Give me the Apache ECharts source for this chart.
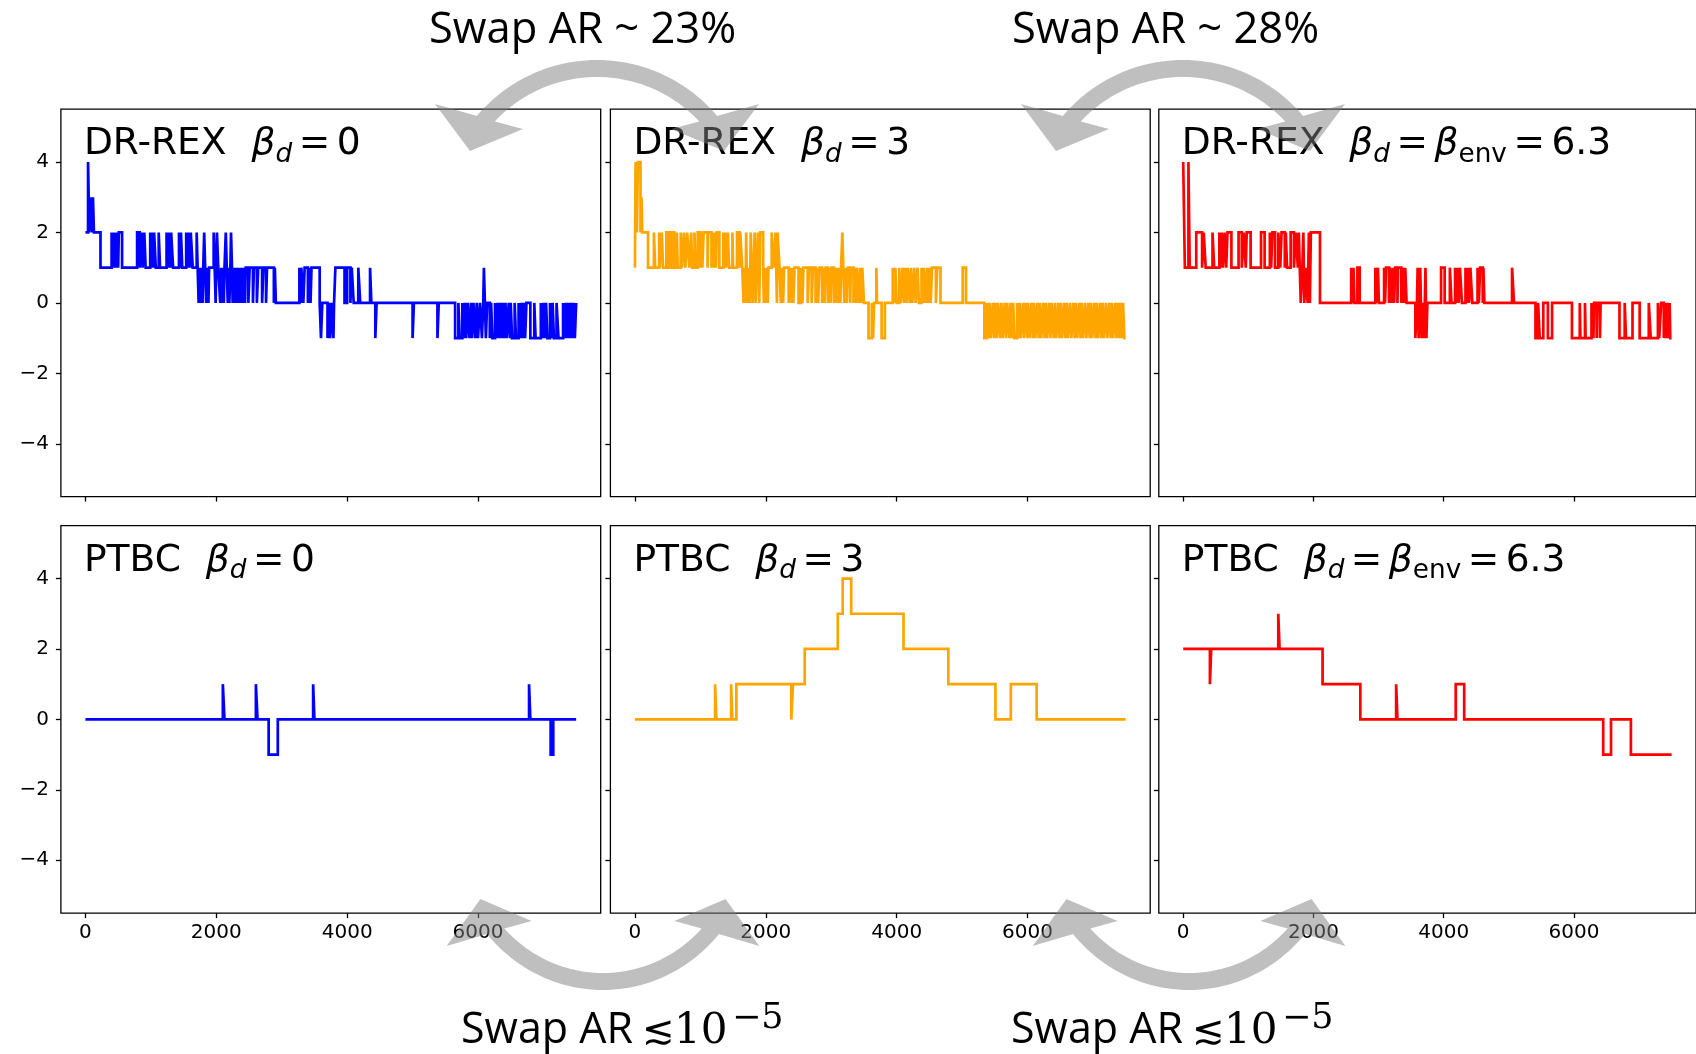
<!DOCTYPE html>
<html>
<head>
<meta charset="utf-8">
<script src="https://cdn.jsdelivr.net/npm/echarts@6/dist/echarts.min.js"></script>
<style>
  html, body { margin: 0; padding: 0; background: #fff; }
  #chart { width: 1696px; height: 1054px; }
</style>
</head>
<body>
<div id="chart"></div>
<script>
// Replica index (integer) versus exchange step. Each entry is [step, value];
// the value holds until the next entry (step-wise trace).
const drRexBeta0 = [[0,2],[40,4],[60,2],[90,3],[105,2],[115,3],[130,2],[230,1],[400,2],[415,1],[430,2],[445,1],[455,2],[470,1],[480,2],[500,1],[510,2],[560,1],
[790,2],[830,1],[860,2],[875,1],[900,2],[920,1],[990,2],[1010,1],[1020,2],[1040,1],[1050,2],[1075,1],[1120,2],[1140,1],[1240,2],[1260,1],[1270,2],[1300,1],[1310,2],[1340,1],[1430,2],[1445,1],[1460,2],[1480,1],[1540,2],[1560,1],[1575,2],[1600,1],[1610,2],[1640,1],[1700,2],[1715,1],
[1730,0],[1745,1],[1760,0],[1775,1],[1790,0],[1800,1],[1815,2],[1830,1],[1845,0],[1855,1],[1880,0],[1890,1],[1960,2],[1975,1],[1990,0],[2000,1],[2010,2],[2030,1],[2060,0],[2075,1],[2090,0],[2100,1],[2115,0],[2125,1],[2145,2],[2160,1],[2175,0],[2185,1],[2200,0],[2215,1],[2225,2],[2240,1],[2250,0],[2265,1],[2280,0],[2290,1],[2310,0],[2325,1],[2340,0],[2350,1],[2370,0],[2385,1],[2405,0],[2420,1],[2440,0],[2450,1],[2490,0],[2510,1],[2560,0],[2575,1],[2620,0],[2640,1],[2700,0],[2720,1],[2760,0],[2775,1],[2880,0],[2895,1],[2910,0],
[3270,1],[3290,0],[3300,1],[3330,0],[3350,1],[3400,0],[3420,1],[3440,0],[3455,1],[3580,0],[3600,-1],[3620,0],[3700,-1],[3720,0],[3740,-1],[3760,0],[3790,-1],[3800,0],[3820,1],[3960,0],[4000,1],[4050,0],[4070,1],[4100,0],[4170,1],[4200,0],[4350,1],[4370,0],[4430,-1],[4450,0],
[5000,-1],[5020,0],[5380,-1],[5400,0],[5650,-1],[5700,0],[5720,-1],[5760,0],[5780,-1],[5800,0],[5820,-1],[5840,0],[5870,-1],[5890,0],[5910,-1],[5930,0],[5960,-1],[5980,0],[6000,-1],[6030,0],[6060,-1],[6080,0],[6090,1],[6105,0],[6120,-1],[6140,0],[6180,-1],[6200,0],[6220,-1],[6260,0],[6280,-1],[6300,0],[6320,-1],[6340,0],[6360,-1],[6380,0],[6400,-1],[6420,0],[6440,-1],[6470,0],[6490,-1],[6500,0],[6520,-1],[6560,0],[6580,-1],[6620,0],[6640,-1],[6660,0],[6680,-1],[6700,0],[6720,-1],[6740,0],[6800,-1],[6860,0],[6880,-1],[6960,0],[6980,-1],[7000,0],[7020,-1],[7040,0],[7060,-1],[7100,0],[7120,-1],[7140,0],[7160,-1],[7200,0],[7230,-1],[7300,0],[7320,-1],[7340,0],[7360,-1],[7380,0],[7400,-1],[7420,0],[7440,-1],[7460,0],[7480,-1],[7500,0]];

const drRexBeta3 = [[0,1],[10,4],[30,2],[45,4],[85,2],[100,3],[112,2],[200,1],
[290,2],[310,1],[370,2],[380,1],[410,2],[430,1],[480,2],[520,1],[560,2],[600,1],[640,2],[655,1],[700,2],[720,1],[750,2],[770,1],[800,2],[830,1],[860,2],[875,1],[910,2],[925,1],[960,2],[1000,1],[1010,2],[1030,1],[1050,2],[1110,1],[1120,2],[1170,1],[1180,2],[1200,1],[1210,2],[1240,1],[1250,2],[1290,1],[1350,2],[1360,1],[1380,2],[1395,1],[1420,2],[1440,1],[1490,2],[1500,1],[1560,2],[1600,1],[1610,2],[1640,1],
[1660,0],[1675,1],[1690,0],[1700,2],[1715,0],[1740,1],[1755,0],[1770,2],[1785,1],[1800,0],[1815,1],[1830,2],[1845,0],[1860,1],[1880,2],[1900,0],[1915,2],[1960,1],[1970,0],[1990,1],[2000,0],[2010,1],[2030,0],[2040,1],[2090,2],[2120,1],[2150,2],[2170,0],[2180,2],[2210,1],
[2230,0],[2250,1],[2265,0],[2280,1],[2350,0],[2380,1],[2395,0],[2405,1],[2420,0],[2440,1],[2500,0],[2540,1],[2560,0],[2575,1],[2640,0],[2660,1],[2700,0],[2720,1],[2760,0],[2775,1],[2800,0],[2820,1],[2860,0],[2880,1],[2900,0],[2915,1],[2950,0],[2965,1],[2990,0],[3005,1],[3040,0],[3055,1],[3080,0],[3095,1],[3110,0],[3125,1],[3140,0],[3150,1],[3170,2],[3185,1],[3200,0],[3215,1],[3240,0],[3255,1],[3290,0],[3300,1],[3340,0],[3355,1],[3380,0],[3390,1],[3420,0],[3440,1],[3460,0],[3475,1],[3500,0],
[3570,-1],[3620,0],[3640,-1],[3655,0],[3690,1],[3700,0],[3770,-1],[3820,0],
[3940,1],[3960,0],[3980,1],[4000,0],[4040,1],[4060,0],[4090,1],[4110,0],[4130,1],[4150,0],[4170,1],[4200,0],[4220,1],[4240,0],[4270,1],[4290,0],[4320,1],[4340,0],[4380,1],[4400,0],[4420,1],[4440,0],[4470,1],[4480,0],[4500,1],[4520,0],[4540,1],[4600,0],[4620,1],[4670,0],
[5010,1],[5060,0],
[5340,-1],[5380,0],[5400,-1],[5420,0],[5440,-1],[5470,0],[5490,-1],[5510,0],[5530,-1],[5550,0],[5580,-1],[5600,0],[5620,-1],[5650,0],[5670,-1],[5690,0],[5720,-1],[5740,0],[5760,-1],[5780,0],[5800,-1],[5840,0],[5860,-1],[5880,0],[5900,-1],[5930,0],[5950,-1],[5970,0],[6000,-1],[6010,0],[6030,-1],[6060,0],[6080,-1],[6100,0],[6120,-1],[6150,0],[6170,-1],[6190,0],[6210,-1],[6240,0],[6260,-1],[6280,0],[6300,-1],[6330,0],[6350,-1],[6370,0],[6400,-1],[6420,0],[6440,-1],[6470,0],[6490,-1],[6510,0],[6530,-1],[6560,0],[6580,-1],[6600,0],[6620,-1],[6650,0],[6670,-1],[6700,0],[6720,-1],[6740,0],[6760,-1],[6790,0],[6810,-1],[6830,0],[6850,-1],[6880,0],[6900,-1],[6930,0],[6950,-1],[6970,0],[6990,-1],[7020,0],[7040,-1],[7060,0],[7080,-1],[7110,0],[7130,-1],[7150,0],[7170,-1],[7200,0],[7220,-1],[7250,0],[7270,-1],[7290,0],[7310,-1],[7340,0],[7360,-1],[7380,0],[7400,-1],[7420,0],[7440,-1],[7460,0],[7480,-1],[7500,-1]];

const drRexBetaEnv = [[0,4],[25,1],[80,4],[100,1],[200,2],[290,1],[315,2],[345,1],[450,2],[475,1],[555,2],[580,1],[590,2],[610,1],[635,2],[660,1],[680,2],[740,1],[850,2],[900,1],[930,2],[960,1],[975,2],[1035,1],[1195,2],[1250,1],[1330,2],[1350,1],[1370,2],[1410,1],[1460,2],[1490,1],[1510,2],[1560,1],[1575,2],[1595,1],[1650,2],[1700,1],[1730,2],[1760,1],[1775,2],[1805,0],[1830,1],[1845,2],[1860,0],[1880,1],[1910,0],[1930,2],[1945,0],[1960,2],[2100,0],
[2580,1],[2600,0],[2615,1],[2630,0],[2675,1],[2710,0],[2950,1],[2965,0],[2990,1],[3005,0],[3085,1],[3100,0],[3115,1],[3160,0],[3170,1],[3200,0],[3215,1],[3240,0],[3255,1],[3290,0],[3300,1],[3350,0],[3375,1],[3390,0],[3410,1],[3430,0],[3565,-1],[3590,0],[3600,1],[3615,-1],[3640,1],[3660,-1],[3680,0],[3700,-1],[3720,1],[3735,-1],[3750,0],[3960,1],[4015,0],[4095,1],[4120,0],[4175,1],[4195,0],[4210,1],[4230,0],[4250,1],[4280,0],[4335,1],[4350,0],[4370,1],[4390,0],[4410,1],[4440,0],[4520,1],[4540,0],[4560,1],[4600,0],[4610,1],[4625,0],[5050,1],[5080,0],
[5410,-1],[5450,0],[5475,-1],[5530,0],[5600,-1],[5665,0],[5970,-1],[6090,0],[6100,-1],[6170,0],[6180,-1],[6270,0],[6300,-1],[6310,0],[6350,-1],[6360,0],[6400,-1],[6410,0],[6700,-1],[6780,0],[6800,-1],[6900,0],[7010,-1],[7150,0],[7180,-1],[7290,0],[7310,-1],[7340,0],[7380,-1],[7400,0],[7420,-1],[7440,0],[7455,-1],[7470,0],[7480,-1],[7500,-1]];

const ptbcBeta0 = [[0,0],[2100,1],[2125,0],[2605,1],[2630,0],[2800,-1],[2940,0],[3480,1],[3500,0],[6780,1],[6800,0],[7110,-1],[7150,0],[7500,0]];
const ptbcBeta3 = [[0,0],[1225,1],[1245,0],[1470,1],[1490,0],[1550,1],[2390,0],[2415,1],[2595,2],[3100,3],[3175,4],[3305,3],[4105,2],[4790,1],[5510,0],[5745,1],[6140,0],[7500,0]];
const ptbcBetaEnv = [[0,2],[410,1],[430,2],[1460,3],[1480,2],[2140,1],[2720,0],[3270,1],[3290,0],[4185,1],[4315,0],[6450,-1],[6570,0],[6875,-1],[7500,-1]];

const xTicks = [0, 2000, 4000, 6000];
const yTicks = [-4, -2, 0, 2, 4];
const methods = ['DR-REX', 'PTBC'];
const betaLabels = ['0', '3', '6.3'];
const lineColors = ['#0000ff', '#ffa500', '#ff0000'];
const panelData = [drRexBeta0, drRexBeta3, drRexBetaEnv, ptbcBeta0, ptbcBeta3, ptbcBetaEnv];
const topNotes = ['Swap AR ~ 23%', 'Swap AR ~ 28%'];
const bottomNote = { base: 'Swap AR', rel: '\u2272', mant: '10', exp: '\u22125' };

// ---- layout ----
const colLeft = [60.9, 610.4, 1158.8];
const rowTop = [109.2, 525.7];
const PW = 539.8, PH = 387.4;
const DJ = "'DejaVu Sans'";
const OS = "'Open Sans', 'DejaVu Sans'";
const SERIF = "'DejaVu Serif', 'Liberation Serif'";
const minus = s => String(s).replace('-', '\u2212');

const mctx = document.createElement('canvas').getContext('2d');
function fontStr(p) {
  return (p.italic ? 'italic ' : '') + p.size + 'px ' + p.family;
}
// Lays out a run of text pieces on a shared baseline.
function textRun(parts, x, baseline, z) {
  const out = [];
  let cx = x;
  parts.forEach(p => {
    if (p.at != null) cx = p.at;
    cx += p.gap || 0;
    const f = fontStr(p);
    mctx.font = f;
    mctx.textBaseline = 'middle';
    const w = mctx.measureText(p.text).width;
    const off = mctx.measureText('H').actualBoundingBoxDescent;
    out.push({
      type: 'text', x: cx, y: baseline + (p.dy || 0) - off, z: z || 50, silent: true,
      style: { text: p.text, font: f, fill: '#000', align: 'left', verticalAlign: 'middle',
               textAlign: 'left', textVerticalAlign: 'middle' }
    });
    cx += w;
  });
  return out;
}

function panelTitle(r, c) {
  const S = 37.6, sub = 26.3;
  const g = 6.5;
  const parts = [
    { text: methods[r] + '  ', size: S, family: DJ },
    { text: '\u03b2', size: S, family: DJ, italic: true, gap: 1 },
    { text: 'd', size: sub, family: DJ, italic: true, dy: 7.5 },
    { text: '=', size: S, family: DJ, gap: g }
  ];
  if (c === 2) {
    parts.push({ text: '\u03b2', size: S, family: DJ, italic: true, gap: g });
    parts.push({ text: 'env', size: sub, family: DJ, dy: 7.5, gap: 0 });
    parts.push({ text: '=', size: S, family: DJ, gap: g });
  }
  parts.push({ text: betaLabels[c], size: S, family: DJ, gap: g });
  return textRun(parts, colLeft[c] + 23, rowTop[r] + 45, 60);
}

// Curved double-headed swap arrow (decoration between neighbouring panels).
function swapArrow(cx, cy, flip, sx) {
  const Ro = 157, Ri = 140;
  const P = (x, y) => [cx + x * sx, cy + y * flip];
  const pts = [];
  const aO0 = Math.atan2(-101, -120), aO1 = Math.atan2(-101, 120);
  const aI0 = Math.atan2(-96.25, -103), aI1 = Math.atan2(-96.25, 103);
  const n = 48;
  for (let i = 0; i <= n; i++) {
    const a = aO0 + (aO1 - aO0) * i / n;
    pts.push(P(Ro * Math.cos(a), Ro * Math.sin(a)));
  }
  pts.push(P(162, -113), P(127, -66), P(74, -88));
  for (let i = 0; i <= n; i++) {
    const a = aI1 + (aI0 - aI1) * i / n;
    pts.push(P(Ri * Math.cos(a), Ri * Math.sin(a)));
  }
  pts.push(P(-74, -88), P(-127, -66), P(-162, -113));
  return { type: 'polygon', z: 200, silent: true, shape: { points: pts },
           style: { fill: 'rgba(128,128,128,0.5)' } };
}

const tickFont = { fontFamily: 'DejaVu Sans', fontSize: 20, color: '#000' };
const grids = [], xAxes = [], yAxes = [], series = [];
let graphics = [];
for (let r = 0; r < 2; r++) {
  for (let c = 0; c < 3; c++) {
    const i = r * 3 + c;
    grids.push({ left: colLeft[c], top: rowTop[r], width: PW, height: PH, show: true,
                 borderColor: '#000', borderWidth: 1.3, backgroundColor: 'transparent' });
    xAxes.push({
      gridIndex: i, type: 'value', min: -375, max: 7875, position: 'bottom',
      axisLine: { show: false, onZero: false }, splitLine: { show: false },
      axisTick: { show: true, inside: false, length: 5, customValues: xTicks,
                  lineStyle: { color: '#000', width: 1.3 } },
      axisLabel: Object.assign({ show: r === 1, customValues: xTicks, margin: 10,
                                 formatter: v => String(v) }, tickFont)
    });
    yAxes.push({
      gridIndex: i, type: 'value', min: -5.5, max: 5.5, position: 'left',
      axisLine: { show: false, onZero: false }, splitLine: { show: false },
      axisTick: { show: true, inside: false, length: 5, customValues: yTicks,
                  lineStyle: { color: '#000', width: 1.3 } },
      axisLabel: Object.assign({ show: c === 0, customValues: yTicks, margin: 12,
                                 formatter: v => minus(v) }, tickFont)
    });
    series.push({
      type: 'line', xAxisIndex: i, yAxisIndex: i, data: panelData[i], step: 'end',
      symbol: 'none', showSymbol: false, clip: true, animation: false,
      lineStyle: { color: lineColors[c], width: 2.7, join: 'miter' }
    });
    graphics = graphics.concat(panelTitle(r, c));
  }
}

// swap annotations
const topX = [429, 1012];
topNotes.forEach((t, k) => {
  graphics = graphics.concat(textRun([{ text: t, size: 43.5, family: OS }], topX[k], 43, 60));
});
[461, 1011].forEach(x0 => {
  graphics = graphics.concat(textRun([
    { text: bottomNote.base, size: 43, family: OS, at: x0 },
    { text: bottomNote.rel, size: 39, family: DJ, at: x0 + 181 },
    { text: bottomNote.mant, size: 42, family: SERIF, at: x0 + 213 },
    { text: bottomNote.exp, size: 35, family: SERIF, at: x0 + 271, dy: -15.5 }
  ], 0, 1043, 60));
});
graphics.push(swapArrow(597, 217, 1, 1));
graphics.push(swapArrow(1183, 217, 1, 1));
graphics.push(swapArrow(603, 833, -1, 0.965));
graphics.push(swapArrow(1189, 833, -1, 0.965));

const chart = echarts.init(document.getElementById('chart'), null, { renderer: 'canvas' });
chart.setOption({
  animation: false,
  backgroundColor: '#fff',
  grid: grids, xAxis: xAxes, yAxis: yAxes, series: series,
  graphic: { elements: graphics }
});
</script>
</body>
</html>
